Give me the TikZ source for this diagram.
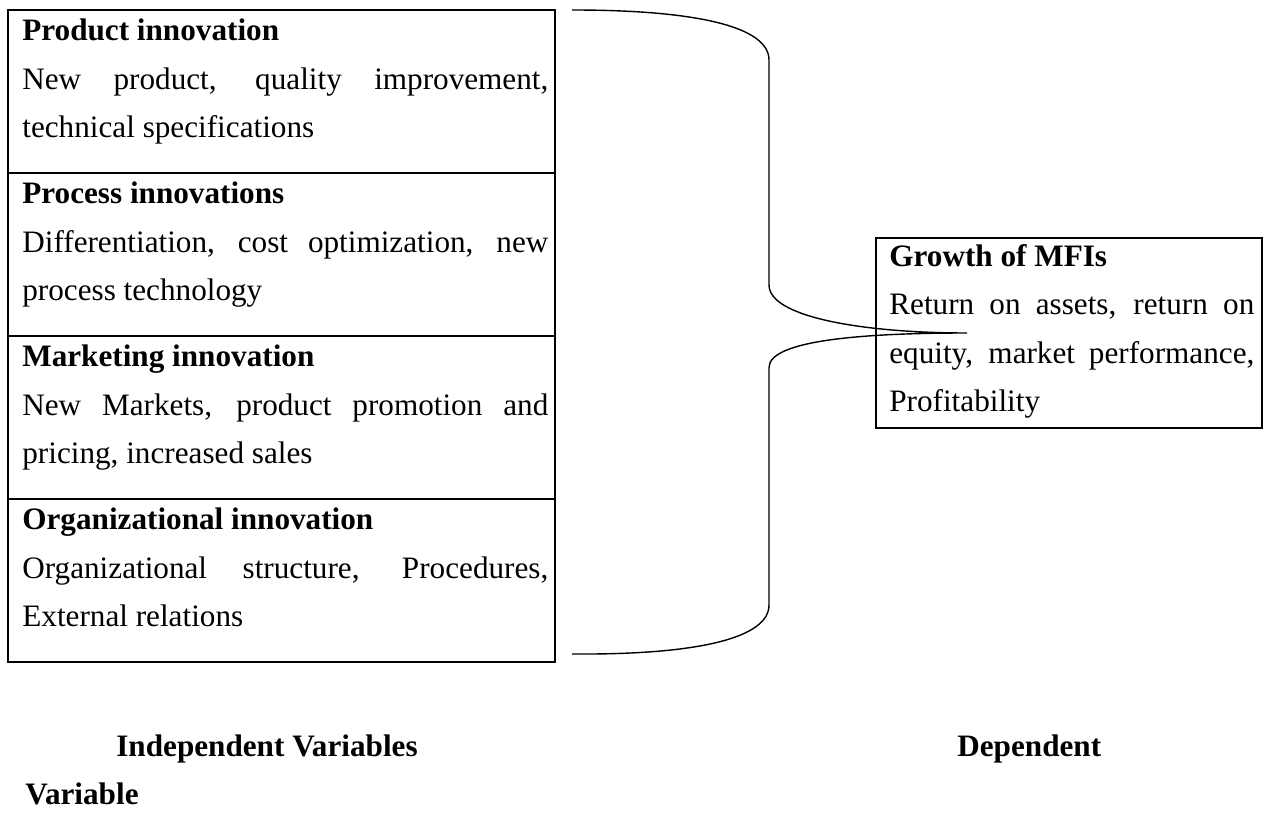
\documentclass[tikz,border=0pt]{standalone}
\usepackage{fontspec}
\setmainfont{Liberation Serif}
\usetikzlibrary{positioning, calc}

\begin{document}
\begin{tikzpicture}[
    secbox/.style = {draw, line width=0.9pt, minimum width=10.94cm, minimum height=3.26cm, inner sep=0pt, outer sep=0pt},
    sectext/.style = {anchor=north west, inner sep=0pt, text width=10.52cm, align=justify, font=\fontsize{17.75}{27.6}\selectfont},
    depbox/.style = {draw, line width=0.9pt, minimum width=7.72cm, minimum height=3.8cm, inner sep=0pt, outer sep=0pt},
    deptext/.style = {anchor=north west, inner sep=0pt, text width=7.3cm, align=justify, font=\fontsize{17.75}{27.6}\selectfont},
    varlabel/.style = {anchor=base west, inner sep=0pt, font=\fontsize{17.75}{27.6}\selectfont\bfseries},
    brace/.style = {line width=0.8pt},
]
\useasboundingbox (0,0) rectangle (25.38,-16.32);

% Independent variables (stacked boxes)
\node[secbox] (prod) at (5.63,-1.83) {};
\node[secbox, below=0pt of prod] (proc) {};
\node[secbox, below=0pt of proc] (mark) {};
\node[secbox, below=0pt of mark] (org) {};

\node[sectext] (prodtxt) at ([xshift=0.28cm, yshift=-0.18cm]prod.north west)
    {\textbf{Product innovation}\\
     New product, quality improvement,\linebreak technical specifications};
\node[sectext] (proctxt) at ([xshift=0.28cm, yshift=-0.18cm]proc.north west)
    {\textbf{Process innovations}\\
     Differentiation, cost optimization, new\linebreak process technology};
\node[sectext] (marktxt) at ([xshift=0.28cm, yshift=-0.18cm]mark.north west)
    {\textbf{Marketing innovation}\\
     New Markets, product promotion and\linebreak pricing, increased sales};
\node[sectext] (orgtxt) at ([xshift=0.28cm, yshift=-0.18cm]org.north west)
    {\textbf{Organizational innovation}\\
     Organizational structure, Procedures,\linebreak External relations};

% Dependent variable
\node[depbox] (growth) at (21.38,-6.66) {};
\node[deptext] (growthtxt) at ([xshift=0.26cm, yshift=-0.12cm]growth.north west)
    {\textbf{Growth of MFIs}\\
     Return on assets, return on\linebreak equity, market performance,\linebreak
     Profitability};

% Brace
\coordinate (bracetop) at ([xshift=0.34cm]prod.north east);
\coordinate (bracebot) at ([xshift=0.34cm, yshift=0.16cm]org.south east);
\coordinate (bracetip) at ([xshift=1.82cm]growth.west);

\draw[brace] (bracetop)
    .. controls (14.0,-0.2) and (15.38,-0.55) .. (15.38,-1.2)
    -- (15.38,-5.7)
    .. controls (15.38,-6.35) and (17.3,-6.66) .. (bracetip)
    .. controls (17.3,-6.66) and (15.38,-6.8) .. (15.38,-7.35)
    -- (15.38,-12.1)
    .. controls (15.38,-12.75) and (14.0,-13.1) .. (bracebot);

% Labels
\node[varlabel] (indep) at (2.32,-15.12) {Independent Variables};
\node[varlabel] (dep) at (19.14,-15.12) {Dependent};
\node[varlabel] (depvar) at (0.5,-16.09) {Variable};

\end{tikzpicture}
\end{document}
